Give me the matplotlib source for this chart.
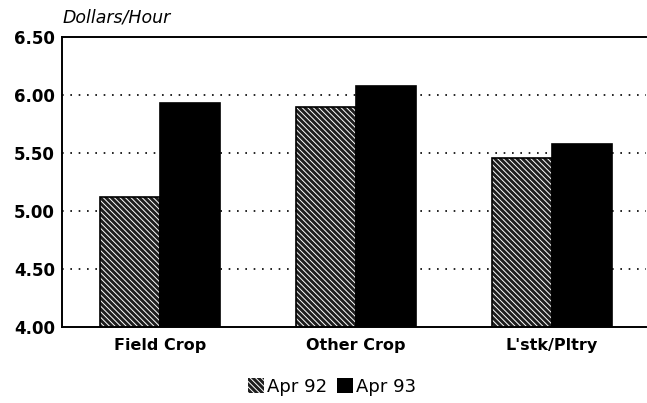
import numpy as np
import matplotlib.pyplot as plt
from matplotlib.patches import Patch

categories = ['Field Crop', 'Other Crop', "L'stk/Pltry"]
apr92 = [5.12, 5.90, 5.46]
apr93 = [5.93, 6.08, 5.58]
yticks = [4.00, 4.50, 5.00, 5.50, 6.00, 6.50]

plt.rcParams['font.family'] = ['DejaVu Sans']
plt.rcParams['hatch.linewidth'] = 0.7

fig = plt.figure(figsize=(6.47, 4.03), dpi=100)
ax = fig.add_axes([62 / 647, 1 - 327 / 403, 584 / 647, 290 / 403])

x = np.arange(len(categories))
w = 0.305
hatch = '\\\\\\\\\\\\'

# hatched bars: dark fill with white diagonal lines, black outline on top
ax.bar(x - w / 2, apr92, w, color='#1e1e1e', edgecolor='white',
       hatch=hatch, linewidth=0, zorder=2)
ax.bar(x - w / 2, apr92, w, fill=False, edgecolor='black', linewidth=1.2, zorder=3)
ax.bar(x + w / 2, apr93, w, color='black', edgecolor='black', linewidth=1.2, zorder=3)

ax.set_ylim(4.0, 6.5)
ax.set_xlim(-0.5, 2.48)
ax.set_yticks(yticks)
ax.set_yticklabels([f'{v:.2f}' for v in yticks], fontweight='bold', fontsize=12)
ax.set_xticks(x)
ax.set_xticklabels(categories, fontweight='bold', fontsize=11.5)
ax.tick_params(length=0)
ax.tick_params(axis='y', pad=5)
ax.tick_params(axis='x', pad=8)

for v in yticks[1:-1]:
    ax.axhline(v, color='black', linestyle=(0, (1, 4)), linewidth=1.2, zorder=1)

ax.spines['right'].set_visible(False)
for s in ['left', 'top', 'bottom']:
    ax.spines[s].set_linewidth(1.4)

fig.text(63 / 647, 1 - 18 / 403, 'Dollars/Hour', fontsize=12.5, style='italic',
         va='center', ha='left')

handles = [Patch(facecolor='#1e1e1e', edgecolor='white', hatch=hatch, linewidth=0),
           Patch(facecolor='black')]
fig.legend(handles, ['Apr 92', 'Apr 93'], loc='center', bbox_to_anchor=(332 / 647, 1 - 387 / 403),
           ncol=2, frameon=False, fontsize=13, handlelength=0.9, handleheight=0.9,
           handletextpad=0.2, columnspacing=0.5)

fig.savefig('out.png', dpi=100)
